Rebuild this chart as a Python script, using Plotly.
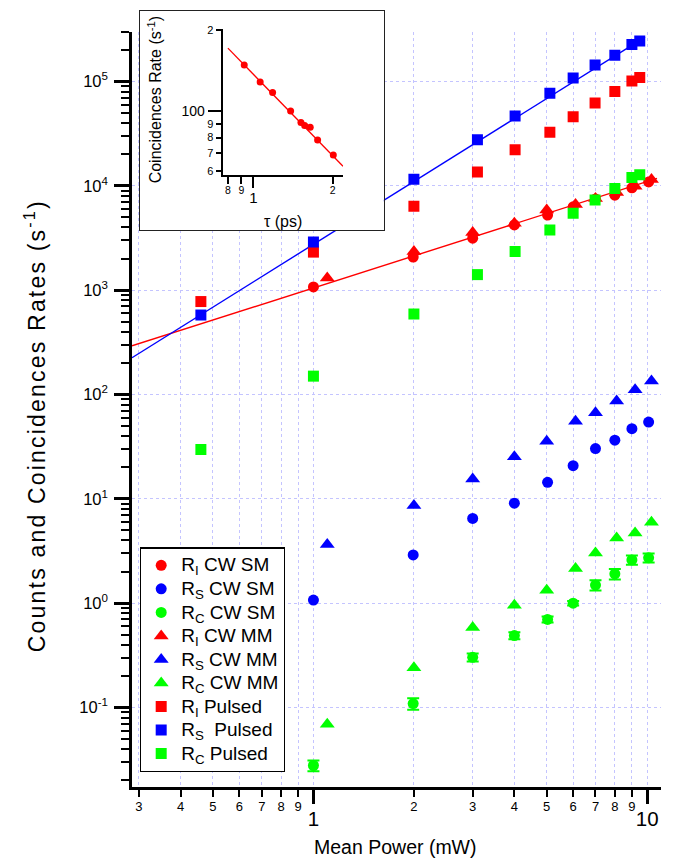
import plotly.graph_objects as go
import numpy as np

# ---------------- data ----------------
# CW single-mode (circles)
p_cw_sm = [1.0, 1.99, 3.0, 4.0, 5.03, 6.0, 7.0, 8.0, 9.0, 10.1]
ri_cw_sm = [1075, 2075, 3150, 4220, 5250, 6300, 7500, 8130, 9570, 10900]
rs_cw_sm = [1.07, 2.9, 6.49, 9.08, 14.4, 20.8, 30.3, 36.5, 47, 54.5]
rc_cw_sm = [0.0278, 0.109, 0.303, 0.489, 0.698, 1.0, 1.49, 1.91, 2.6, 2.72]
rc_cw_sm_err = [0.0033, 0.014, 0.027, 0.037, 0.046, 0.05, 0.17, 0.22, 0.27, 0.27]

# CW multi-mode (triangles)
p_cw_mm = [1.1, 2.0, 3.0, 4.0, 5.0, 6.1, 7.0, 8.1, 9.2, 10.3]
ri_cw_mm = [1310, 2350, 3570, 4380, 5860, 6640, 7570, 8630, 9910, 11500]
rs_cw_mm = [3.65, 8.63, 15.5, 25.3, 35.6, 55.3, 66.9, 86.9, 111, 135]
rc_cw_mm = [0.0693, 0.240, 0.586, 0.957, 1.33, 2.15, 3.03, 4.22, 4.7, 5.98]

# Pulsed (squares)
p_pul = [0.46, 1.0, 2.0, 3.1, 4.02, 5.11, 6.0, 6.98, 8.0, 9.0, 9.5]
ri_pul = [778, 2317, 6390, 13600, 22200, 32700, 46000, 62100, 80400, 101000, 109000]
rs_pul = [578, 2900, 11560, 27600, 46800, 77400, 108000, 144000, 179000, 226000, 244000]
rc_pul = [29.7, 150, 591, 1410, 2350, 3780, 5450, 7300, 9420, 12000, 12800]

# fit lines (end points)
fit_ri_x = [0.286, 10.7]
fit_ri_y = [293, 11800]
fit_rs_x = [0.286, 9.85]
fit_rs_y = [225, 266800]

# inset: coincidence rate vs tau
tau = [0.923, 1.061, 1.183, 1.385, 1.516, 1.566, 1.644, 1.754, 2.012]
coinc = [148.4, 128.5, 117.4, 100.3, 90.9, 88.6, 87.4, 78.3, 68.9]
fit_tau = [0.80, 2.19]
fit_coinc = [171.4, 62.6]

# tick labels
x_minor_vals = [0.3, 0.4, 0.5, 0.6, 0.7, 0.8, 0.9, 1, 2, 3, 4, 5, 6, 7, 8, 9, 10]
x_minor_text = ["3", "4", "5", "6", "7", "8", "9", "", "2", "3", "4", "5", "6", "7", "8", "9", ""]
x_major_vals = [1, 10]
x_major_text = ["1", "10"]
y_major_vals = [0.1, 1, 10, 100, 1000, 10000, 100000]
y_major_text = ["10<sup>-1</sup>", "10<sup>0</sup>", "10<sup>1</sup>", "10<sup>2</sup>",
                "10<sup>3</sup>", "10<sup>4</sup>", "10<sup>5</sup>"]
y_minor_vals = [m * 10.0 ** e for e in range(-2, 6) for m in range(2, 10)]
ins_x_vals = [0.8, 0.9, 2]
ins_x_text = ["8", "9", "2"]
ins_y_vals = [60, 70, 80, 90, 200]
ins_y_text = ["6", "7", "8", "9", "2"]

# ---------------- geometry ----------------
W, H = 673, 858
ML, MR, MT, MB = 132, 11.6, 4, 70.7
PW = W - ML - MR
PH = H - MT - MB


def fx(px):
    return (px - ML) / PW


def fy(py):
    return (H - MB - py) / PH


RED, BLUE, GREEN = "#ff0000", "#0000ff", "#00ff00"
FONT = "Liberation Sans, Arial, Helvetica, sans-serif"
GRID = "#c4c4ff"

fig = go.Figure()

# fit lines
fig.add_trace(go.Scatter(x=fit_ri_x, y=fit_ri_y, mode="lines", line=dict(color=RED, width=1.4),
                         showlegend=False, hoverinfo="skip"))
fig.add_trace(go.Scatter(x=fit_rs_x, y=fit_rs_y, mode="lines", line=dict(color=BLUE, width=1.4),
                         showlegend=False, hoverinfo="skip"))


def nm(base, sub, rest):
    return '<span style="font-size:19px">%s<sub>%s</sub>%s</span>' % (base, sub, rest)


CS, TS, SS = 11, 13, 11
fig.add_trace(go.Scatter(x=p_cw_sm, y=ri_cw_sm, mode="markers", name=nm("R", "I", " CW SM"),
                         marker=dict(symbol="circle", size=CS, color=RED)))
fig.add_trace(go.Scatter(x=p_cw_sm, y=rs_cw_sm, mode="markers", name=nm("R", "S", " CW SM"),
                         marker=dict(symbol="circle", size=CS, color=BLUE)))
fig.add_trace(go.Scatter(x=p_cw_sm, y=rc_cw_sm, mode="markers", name=nm("R", "C", " CW SM"),
                         marker=dict(symbol="circle", size=CS, color=GREEN),
                         error_y=dict(type="data", array=rc_cw_sm_err, color=GREEN, thickness=2, width=6)))
fig.add_trace(go.Scatter(x=p_cw_mm, y=ri_cw_mm, mode="markers", name=nm("R", "I", " CW MM"),
                         marker=dict(symbol="triangle-up", size=TS, color=RED)))
fig.add_trace(go.Scatter(x=p_cw_mm, y=rs_cw_mm, mode="markers", name=nm("R", "S", " CW MM"),
                         marker=dict(symbol="triangle-up", size=TS, color=BLUE)))
fig.add_trace(go.Scatter(x=p_cw_mm, y=rc_cw_mm, mode="markers", name=nm("R", "C", " CW MM"),
                         marker=dict(symbol="triangle-up", size=TS, color=GREEN)))
fig.add_trace(go.Scatter(x=p_pul, y=ri_pul, mode="markers", name=nm("R", "I", " Pulsed"),
                         marker=dict(symbol="square", size=SS, color=RED)))
fig.add_trace(go.Scatter(x=p_pul, y=rs_pul, mode="markers", name=nm("R", "S", "  Pulsed"),
                         marker=dict(symbol="square", size=SS, color=BLUE)))
fig.add_trace(go.Scatter(x=p_pul, y=rc_pul, mode="markers", name=nm("R", "C", " Pulsed"),
                         marker=dict(symbol="square", size=SS, color=GREEN)))

# helper traces so overlay / inset axes exist
fig.add_trace(go.Scatter(x=[], y=[], xaxis="x2", yaxis="y", showlegend=False))
fig.add_trace(go.Scatter(x=[], y=[], xaxis="x3", yaxis="y3", showlegend=False))

# inset data
fig.add_trace(go.Scatter(x=fit_tau, y=fit_coinc, mode="lines", xaxis="x4", yaxis="y4",
                         line=dict(color=RED, width=1.3), showlegend=False))
fig.add_trace(go.Scatter(x=tau, y=coinc, mode="markers", xaxis="x4", yaxis="y4",
                         marker=dict(symbol="circle", size=7, color=RED), showlegend=False))
fig.add_trace(go.Scatter(x=[], y=[], xaxis="x5", yaxis="y4", showlegend=False))
fig.add_trace(go.Scatter(x=[], y=[], xaxis="x4", yaxis="y5", showlegend=False))

xr = [np.log10(0.286), np.log10(11.0)]
yr = [np.log10(0.0173), np.log10(3.0e5)]
ins_xr = [np.log10(0.764), np.log10(2.193)]
ins_yr = [np.log10(58.2), np.log10(202)]

tickfont_small = dict(family=FONT, size=13, color="black")

fig.update_layout(
    width=W, height=H,
    margin=dict(l=ML, r=MR, t=MT, b=MB, pad=0),
    paper_bgcolor="white", plot_bgcolor="white",
    font=dict(family=FONT, color="black"),
    showlegend=True,
    legend=dict(x=fx(140), y=fy(546), xanchor="left", yanchor="top",
                bgcolor="white", bordercolor="black", borderwidth=1.2,
                font=dict(family=FONT, size=15.8, color="black"),
                tracegroupgap=0),
    xaxis=dict(type="log", range=xr, domain=[0, 1], anchor="y",
               showline=True, linecolor="black", linewidth=2.5,
               ticks="outside", ticklen=7, tickwidth=2, tickcolor="black",
               tickmode="array", tickvals=x_minor_vals, ticktext=x_minor_text,
               tickfont=tickfont_small, ticklabelstandoff=-1,
               showgrid=True, gridcolor=GRID, griddash="dot", gridwidth=1,
               zeroline=False),
    xaxis2=dict(type="log", range=xr, overlaying="x", anchor="y", side="bottom",
                showline=False, ticks="outside", ticklen=16, tickwidth=2.5, tickcolor="black",
                tickmode="array", tickvals=x_major_vals, ticktext=x_major_text,
                tickfont=dict(family=FONT, size=20.5, color="black"),
                ticklabelstandoff=-3, showgrid=False, zeroline=False),
    yaxis=dict(type="log", range=yr, domain=[0, fy(26.9)], anchor="x",
               showline=True, linecolor="black", linewidth=2.5,
               ticks="outside", ticklen=15, tickwidth=2.5, tickcolor="black",
               tickmode="array", tickvals=y_major_vals, ticktext=y_major_text,
               tickfont=dict(family=FONT, size=16.5, color="black"),
               ticklabelstandoff=3,
               minor=dict(tickmode="array", tickvals=y_minor_vals, ticks="outside",
                          ticklen=8, tickwidth=2, tickcolor="black", showgrid=False),
               showgrid=True, gridcolor=GRID, griddash="dot", gridwidth=1,
               zeroline=False),
    # inset frame
    xaxis3=dict(domain=[fx(140), fx(384)], anchor="y3", range=[0, 1],
                showline=True, mirror=True, linecolor="#222", linewidth=1.2,
                showticklabels=False, ticks="", showgrid=False, zeroline=False),
    yaxis3=dict(domain=[fy(227), fy(6.5)], anchor="x3", range=[0, 1],
                showline=True, mirror=True, linecolor="#222", linewidth=1.2,
                showticklabels=False, ticks="", showgrid=False, zeroline=False),
    # inset axes
    xaxis4=dict(type="log", range=ins_xr, domain=[fx(222.7), fx(343.3)], anchor="y4",
                showline=True, linecolor="black", linewidth=2,
                ticks="outside", ticklen=7, tickwidth=1.5, tickcolor="black",
                tickmode="array", tickvals=ins_x_vals, ticktext=ins_x_text,
                tickfont=dict(family=FONT, size=10.5, color="black"),
                ticklabelstandoff=-2,
                showgrid=False, zeroline=False),
    xaxis5=dict(type="log", range=ins_xr, overlaying="x4", anchor="y4", side="bottom",
                showline=False, ticks="outside", ticklen=12, tickwidth=2, tickcolor="black",
                tickmode="array", tickvals=[1], ticktext=["1"],
                tickfont=dict(family=FONT, size=15, color="black"),
                ticklabelstandoff=-3,
                showgrid=False, zeroline=False),
    yaxis4=dict(type="log", range=ins_yr, domain=[fy(171), fy(24)], anchor="x4",
                showline=True, linecolor="black", linewidth=2,
                ticks="outside", ticklen=5, tickwidth=1.5, tickcolor="black",
                tickmode="array", tickvals=ins_y_vals, ticktext=ins_y_text,
                tickfont=dict(family=FONT, size=11, color="black"),
                showgrid=False, zeroline=False),
    yaxis5=dict(type="log", range=ins_yr, overlaying="y4", anchor="x4", side="left",
                showline=False, ticks="outside", ticklen=14, tickwidth=2, tickcolor="black",
                tickmode="array", tickvals=[100], ticktext=["100"],
                tickfont=dict(family=FONT, size=14, color="black"),
                showgrid=False, zeroline=False),
    annotations=[
        dict(text="Mean Power (mW)", x=fx(396), y=fy(848), xref="paper", yref="paper",
             showarrow=False, xanchor="center", yanchor="middle",
             font=dict(family=FONT, size=19.5, color="black")),
        dict(text='<span style="letter-spacing:2.2px">Counts and Coincidences Rates (s<sup>-1</sup>)</span>',
             x=fx(35), y=fy(424),
             xref="paper", yref="paper", showarrow=False, textangle=-90,
             xanchor="center", yanchor="middle",
             font=dict(family=FONT, size=23, color="black")),
        dict(text="Coincidences Rate (s<sup>-1</sup>)", x=fx(155), y=fy(95),
             xref="paper", yref="paper", showarrow=False, textangle=-90,
             xanchor="center", yanchor="middle",
             font=dict(family=FONT, size=16, color="black")),
        dict(text="τ (ps)", x=fx(283), y=fy(218), xref="paper", yref="paper",
             showarrow=False, xanchor="center", yanchor="middle",
             font=dict(family=FONT, size=16, color="black")),
    ],
)

fig.write_html("out.html")
